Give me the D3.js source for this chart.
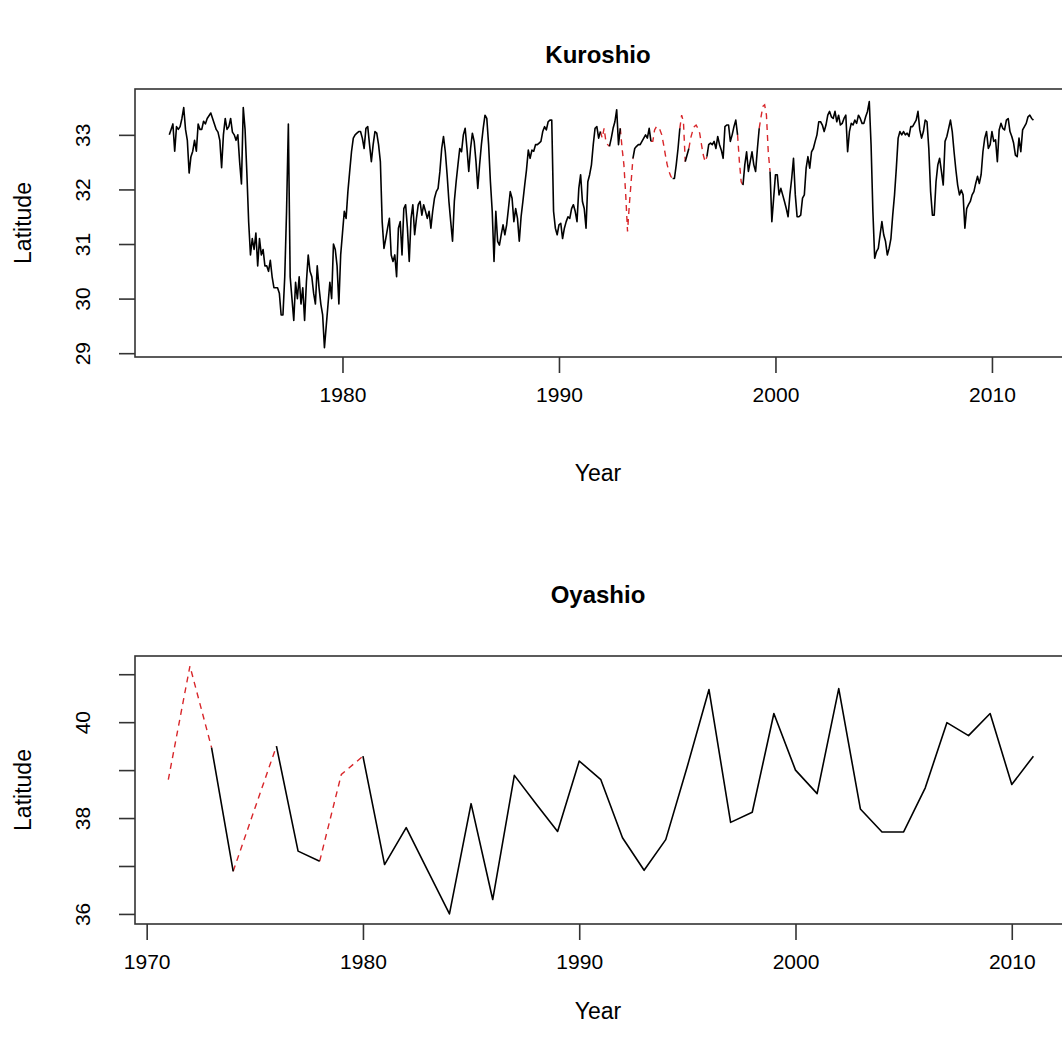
<!DOCTYPE html>
<html>
<head>
<meta charset="utf-8">
<script src="https://cdn.jsdelivr.net/npm/d3@7"></script>
<style>
  body { margin: 0; background: #fff; }
  svg { display: block; font-family: "Liberation Sans", Arial, sans-serif; }
</style>
</head>
<body>
<div id="chart"></div>
<script>
"use strict";

// Kuroshio: monthly latitude, Jan 1972 .. Dec 2011
const kuroshioStartYear = 1972;
const kuroshioLat = [
  33.0, 33.1, 33.2, 32.7, 33.15, 33.1, 33.15, 33.3, 33.5, 33.1, 32.9, 32.3,
  32.6, 32.7, 32.9, 32.7, 33.2, 33.1, 33.1, 33.25, 33.2, 33.3, 33.35, 33.4,
  33.3, 33.2, 33.1, 33.05, 32.9, 32.4, 33.0, 33.3, 33.1, 33.15, 33.3, 33.05,
  33.0, 32.9, 33.0, 32.5, 32.1, 33.5, 33.1, 32.3, 31.4, 30.8, 31.1, 30.9,
  31.2, 30.6, 31.1, 30.8, 30.9, 30.6, 30.6, 30.5, 30.7, 30.4, 30.2, 30.2,
  30.2, 30.1, 29.7, 29.7, 30.4, 31.6, 33.2, 30.4, 30.0, 29.6, 30.3, 30.0,
  30.4, 29.9, 30.2, 29.6, 30.3, 30.8, 30.5, 30.4, 30.1, 29.9, 30.6, 30.2,
  29.9, 29.7, 29.1, 29.5, 29.9, 30.3, 30.0, 31.0, 30.9, 30.6, 29.9, 30.8,
  31.2, 31.6, 31.47, 31.96, 32.33, 32.69, 32.94, 33.0, 33.03, 33.06, 33.06, 32.94,
  32.75, 33.12, 33.15, 32.82, 32.51, 32.82, 33.06, 33.03, 32.82, 32.51, 31.41, 30.92,
  31.1, 31.29, 31.47, 30.8, 30.68, 30.8, 30.4, 31.29, 31.41, 30.8, 31.65, 31.72,
  31.29, 30.68, 31.47, 31.72, 31.17, 31.47, 31.72, 31.78, 31.53, 31.72, 31.6, 31.47,
  31.6, 31.29, 31.6, 31.84, 31.96, 32.02, 32.33, 32.75, 32.97, 32.69, 32.27, 31.78,
  31.41, 31.05, 31.78, 32.14, 32.45, 32.75, 32.69, 33.0, 33.12, 32.75, 32.33, 32.75,
  33.03, 32.88, 32.51, 32.02, 32.45, 32.82, 33.12, 33.36, 33.3, 32.82, 32.14, 31.6,
  30.68, 31.6, 31.05, 30.98, 31.17, 31.35, 31.17, 31.35, 31.65, 31.96, 31.84, 31.41,
  31.65, 31.47, 31.05, 31.5, 31.78, 32.08, 32.36, 32.72, 32.57, 32.72, 32.7, 32.82,
  32.82, 32.85, 32.88, 33.06, 33.15, 33.09, 33.24, 33.27, 33.27, 31.6, 31.29, 31.17,
  31.35, 31.38, 31.1, 31.29, 31.41, 31.5, 31.47, 31.65, 31.72, 31.6, 31.41, 32.02,
  32.27, 31.78, 31.65, 31.29, 32.14, 32.27, 32.45, 32.82, 33.12, 33.15, 32.94, 33.06,
  32.94, 33.12, 32.88, 32.82, 32.79, 32.94, 33.12, 33.24, 33.46, 32.82, 33.12, 32.75,
  32.45, 31.9, 31.23, 31.72, 32.14, 32.57, 32.75, 32.79, 32.82, 32.82, 32.88, 32.94,
  33.0, 32.94, 33.12, 32.88, 32.88, 33.09, 33.15, 33.15, 33.09, 33.0, 32.82, 32.63,
  32.45, 32.33, 32.24, 32.2, 32.2, 32.45, 32.75, 33.12, 33.36, 33.24, 32.51, 32.63,
  32.75, 32.94, 33.06, 33.15, 33.18, 33.12, 33.03, 32.82, 32.63, 32.51, 32.6, 32.82,
  32.85, 32.82, 32.88, 32.75, 32.97, 32.82, 32.72, 32.57, 33.15, 33.18, 33.18, 32.88,
  33.0, 33.15, 33.27, 33.0, 32.51, 32.14, 32.08, 32.45, 32.69, 32.33, 32.51, 32.69,
  32.45, 32.33, 32.75, 33.12, 33.33, 33.52, 33.55, 33.36, 32.69, 32.33, 31.41, 31.84,
  32.27, 32.27, 31.9, 32.02, 31.9, 31.78, 31.65, 31.5, 31.9, 32.2, 32.57, 31.9,
  31.5, 31.5, 31.53, 31.84, 31.9, 32.39, 32.6, 32.39, 32.69, 32.75, 32.88, 33.0,
  33.24, 33.24, 33.18, 33.06, 33.18, 33.36, 33.43, 33.33, 33.3, 33.43, 33.24, 33.36,
  33.18, 33.21, 33.3, 33.36, 32.69, 33.06, 33.21, 33.18, 33.27, 33.21, 33.36, 33.3,
  33.21, 33.21, 33.33, 33.43, 33.61, 32.82, 31.6, 30.74, 30.86, 30.92, 31.17, 31.41,
  31.17, 31.05, 30.8, 30.92, 31.1, 31.53, 31.9, 32.39, 32.94, 33.06, 33.0, 33.06,
  33.0, 33.03, 32.97, 33.15, 33.15, 33.21, 33.27, 33.43, 33.09, 32.94, 33.06, 33.27,
  33.24, 32.75, 31.96, 31.53, 31.53, 32.14, 32.45, 32.57, 32.33, 32.08, 32.88, 32.97,
  33.12, 33.27, 33.06, 32.69, 32.36, 32.08, 31.9, 31.99, 31.9, 31.29, 31.65, 31.72,
  31.78, 31.9, 31.96, 32.11, 32.24, 32.11, 32.27, 32.69, 32.94, 33.06, 32.75, 32.82,
  33.06, 32.88, 32.91, 32.51, 33.09, 33.21, 33.12, 33.09, 33.27, 33.3, 33.06, 32.97,
  32.85, 32.63, 32.6, 32.94, 32.69, 33.09, 33.15, 33.21, 33.33, 33.36, 33.3, 33.27
];
// month index ranges (inclusive) with no observation; filled values drawn red dashed
const kuroshioMissing = [[240, 243], [251, 256], [268, 278], [284, 285], [289, 297], [316, 317], [328, 332]];
const kuroshioYearTicks = [1980, 1990, 2000, 2010];
const kuroshioLatTicks = [29, 30, 31, 32, 33];
const kuroshioLatLabels = [29, 30, 31, 32, 33];

// Oyashio: yearly latitude
const oyashioYears = [1971, 1972, 1973, 1974, 1975, 1976, 1977, 1978, 1979, 1980,
  1981, 1982, 1983, 1984, 1985, 1986, 1987, 1988, 1989, 1990,
  1991, 1992, 1993, 1994, 1995, 1996, 1997, 1998, 1999, 2000,
  2001, 2002, 2003, 2004, 2005, 2006, 2007, 2008, 2009, 2010, 2011];
const oyashioLat = [38.8, 41.17, 39.47, 36.89, 38.2, 39.5, 37.31, 37.1, 38.91, 39.29,
  37.03, 37.8, 36.9, 36.0, 38.3, 36.3, 38.89, 38.3, 37.72, 39.19,
  38.8, 37.59, 36.91, 37.55, 39.08, 40.68, 37.91, 38.12, 40.18, 39.0,
  38.51, 40.7, 38.19, 37.71, 37.71, 38.63, 39.99, 39.72, 40.18, 38.7, 39.29];
// index ranges (inclusive) with no observation
const oyashioMissing = [[0, 1], [4, 4], [8, 8]];
const oyashioYearTicks = [1970, 1980, 1990, 2000, 2010];
const oyashioLatTicks = [36, 37, 38, 39, 40, 41];
const oyashioLatLabels = [36, 38, 40];

const width = 1062, height = 1052;

let svg = d3.select("#chart").append("svg")
  .attr("width", width)
  .attr("height", height);

svg.append("rect").attr("width", width).attr("height", height).attr("fill", "#fff");

function drawPanel(opts) {
  let x = d3.scaleLinear().domain(opts.xDomain).range([opts.left, opts.right]);
  let y = d3.scaleLinear().domain(opts.yDomain).range([opts.bottom, opts.top]);
  let g = svg.append("g");

  let line = d3.line()
    .x(d => x(d.t))
    .y(d => y(d.v));

  // filled stretches (red dashed): from last observation before a gap to first after it
  let gapSegments = opts.missing.map(r => opts.points.slice(Math.max(0, r[0] - 1), r[1] + 2));
  g.selectAll(".gap").data(gapSegments)
    .enter().append("path")
    .attr("class", "gap")
    .attr("fill", "none")
    .attr("stroke", "#d8262a")
    .attr("stroke-width", 1.4)
    .attr("stroke-dasharray", "6,5")
    .attr("d", line);

  // observed series, black
  g.append("path")
    .datum(opts.points)
    .attr("fill", "none")
    .attr("stroke", "#000")
    .attr("stroke-width", 1.6)
    .attr("stroke-linejoin", "round")
    .attr("d", d3.line().x(d => x(d.t)).y(d => y(d.v)).defined(d => d.observed));

  // box
  g.append("rect")
    .attr("x", opts.left)
    .attr("y", opts.top)
    .attr("width", opts.right - opts.left)
    .attr("height", opts.bottom - opts.top)
    .attr("fill", "none")
    .attr("stroke", "#333")
    .attr("stroke-width", 1.6);

  // x axis
  let xAxis = d3.axisBottom(x).tickValues(opts.xTicks).tickSize(16).tickPadding(14).tickFormat(d3.format("d"));
  let xg = g.append("g").attr("transform", `translate(0,${opts.bottom})`).call(xAxis);
  xg.select(".domain").remove();
  xg.selectAll(".tick line").attr("stroke", "#333").attr("stroke-width", 1.6);
  xg.selectAll(".tick text").attr("font-size", 21).attr("fill", "#000")
    .attr("font-family", "Liberation Sans, Arial, sans-serif");

  // y axis, labels rotated like R
  let yAxis = d3.axisLeft(y).tickValues(opts.yTicks).tickSize(16).tickPadding(0)
    .tickFormat(d => opts.yLabels.includes(d) ? d : "");
  let yg = g.append("g").attr("transform", `translate(${opts.left},0)`).call(yAxis);
  yg.select(".domain").remove();
  yg.selectAll(".tick line").attr("stroke", "#333").attr("stroke-width", 1.6);
  yg.selectAll(".tick text")
    .attr("font-size", 21).attr("fill", "#000")
    .attr("font-family", "Liberation Sans, Arial, sans-serif")
    .attr("x", null)
    .attr("text-anchor", "middle")
    .attr("transform", "translate(-52,0) rotate(-90)")
    .attr("dy", "0.35em");

  // titles
  svg.append("text")
    .attr("x", opts.titleX)
    .attr("y", opts.titleY)
    .attr("text-anchor", "middle")
    .attr("font-size", 24)
    .attr("font-weight", "bold")
    .text(opts.title);

  svg.append("text")
    .attr("x", opts.titleX)
    .attr("y", opts.xLabelY)
    .attr("text-anchor", "middle")
    .attr("font-size", 23)
    .text("Year");

  svg.append("text")
    .attr("transform", `translate(31,${(opts.top + opts.bottom) / 2}) rotate(-90)`)
    .attr("text-anchor", "middle")
    .attr("font-size", 23)
    .text("Latitude");
}

function toPoints(times, values, missing) {
  let skip = new Set();
  missing.forEach(r => { for (let i = r[0]; i <= r[1]; i++) skip.add(i); });
  return values.map((v, i) => ({ t: times[i], v: v, observed: !skip.has(i) }));
}

let kuroshioTimes = kuroshioLat.map((v, i) => kuroshioStartYear + i / 12);

drawPanel({
  points: toPoints(kuroshioTimes, kuroshioLat, kuroshioMissing),
  missing: kuroshioMissing,
  xDomain: [1970.416, 2013.513],
  yDomain: [28.93, 33.84],
  left: 135, right: 1068, top: 89, bottom: 357,
  xTicks: kuroshioYearTicks, yTicks: kuroshioLatTicks, yLabels: kuroshioLatLabels,
  title: "Kuroshio", titleX: 598, titleY: 63, xLabelY: 481
});

drawPanel({
  points: toPoints(oyashioYears, oyashioLat, oyashioMissing),
  missing: oyashioMissing,
  xDomain: [1969.46, 2012.6],
  yDomain: [35.79, 41.38],
  left: 135, right: 1068, top: 656, bottom: 924,
  xTicks: oyashioYearTicks, yTicks: oyashioLatTicks, yLabels: oyashioLatLabels,
  title: "Oyashio", titleX: 598, titleY: 603, xLabelY: 1019
});
</script>
</body>
</html>
